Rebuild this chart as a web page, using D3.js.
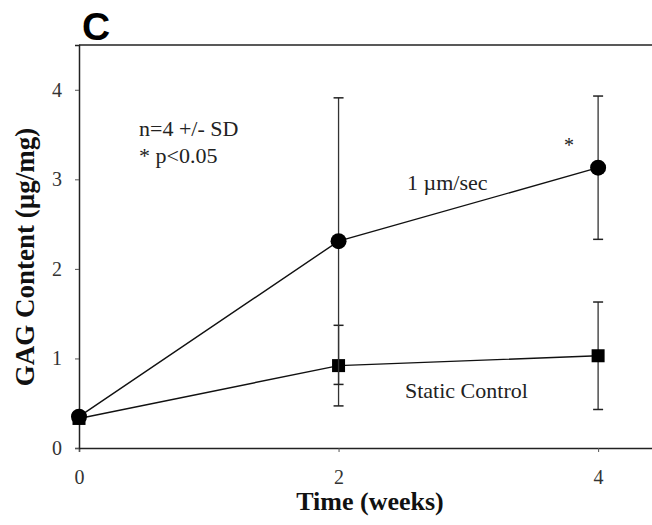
<!DOCTYPE html>
<html>
<head>
<meta charset="utf-8">
<script src="https://cdn.jsdelivr.net/npm/d3@7"></script>
<style>
  body { margin: 0; background: #fff; }
</style>
</head>
<body>
<svg width="652" height="525"></svg>
<script>
// data
var weeks = [0, 2, 4];
var flowMean = [0.35, 2.31, 3.13];
var flowSD = [0, 1.6, 0.8];
var staticMean = [0.33, 0.92, 1.03];
var staticSD = [0, 0.45, 0.6];
var xTicks = [0, 2, 4];
var yTicks = [0, 1, 2, 3, 4];

var serif = "'Liberation Serif', 'Times New Roman', Times, serif";

var svg = d3.select("svg");

var margin = {left: 79, top: 45, bottom: 77};
var width = 663 - margin.left,
    height = 525 - margin.top - margin.bottom;

var x = d3.scaleLinear().domain([0, 4.5]).range([margin.left, margin.left + width]);
var y = d3.scaleLinear().domain([0, 4.5]).range([margin.top + height, margin.top]);

// frame top
svg.append("line")
    .attr("x1", x(0)).attr("x2", x(4.5))
    .attr("y1", y(4.5)).attr("y2", y(4.5))
    .attr("stroke", "#222").attr("stroke-width", 1.5);

var xAxis = svg.append("g")
    .attr("transform", "translate(0," + y(0) + ")")
    .call(d3.axisBottom(x).tickValues(xTicks).tickFormat(d3.format("d")).tickSize(4).tickPadding(18));

var yAxis = svg.append("g")
    .attr("transform", "translate(" + x(0) + ",0)")
    .call(d3.axisLeft(y).tickValues(yTicks).tickFormat(d3.format("d")).tickSize(4).tickPadding(13));

[xAxis, yAxis].forEach(function(g) {
  g.attr("font-family", serif).attr("font-size", 20);
  g.select(".domain").attr("stroke", "#222").attr("stroke-width", 1.5);
  g.selectAll(".tick line").attr("stroke", "#555");
  g.selectAll("text").attr("fill", "#333");
});

function series(mean, sd, shape) {
  var pts = weeks.map(function(w, i) { return {w: w, m: mean[i], sd: sd[i]}; });
  var g = svg.append("g");

  g.append("path")
      .datum(pts)
      .attr("fill", "none")
      .attr("stroke", "#111")
      .attr("stroke-width", 1.4)
      .attr("d", d3.line().x(function(d) { return x(d.w); }).y(function(d) { return y(d.m); }));

  var bars = g.selectAll(".err")
      .data(pts.filter(function(d) { return d.sd > 0; }))
    .enter().append("g");
  bars.append("line")
      .attr("x1", function(d) { return x(d.w); }).attr("x2", function(d) { return x(d.w); })
      .attr("y1", function(d) { return y(d.m + d.sd); }).attr("y2", function(d) { return y(d.m - d.sd); })
      .attr("stroke", "#333").attr("stroke-width", 1.3);
  [1, -1].forEach(function(s) {
    bars.append("line")
        .attr("x1", function(d) { return x(d.w) - 5; }).attr("x2", function(d) { return x(d.w) + 5; })
        .attr("y1", function(d) { return y(d.m + s * d.sd); }).attr("y2", function(d) { return y(d.m + s * d.sd); })
        .attr("stroke", "#222").attr("stroke-width", 1.5);
  });

  if (shape == "circle") {
    g.selectAll("circle").data(pts).enter().append("circle")
        .attr("cx", function(d) { return x(d.w); })
        .attr("cy", function(d) { return y(d.m); })
        .attr("r", 8).attr("fill", "#000");
  } else {
    g.selectAll("rect").data(pts).enter().append("rect")
        .attr("x", function(d) { return x(d.w) - 6.5; })
        .attr("y", function(d) { return y(d.m) - 6.5; })
        .attr("width", 13).attr("height", 13).attr("fill", "#000");
  }
}

series(staticMean, staticSD, "square");
series(flowMean, flowSD, "circle");

// annotations
function note(px, py, size, str) {
  svg.append("text").attr("x", px).attr("y", py)
      .attr("font-family", serif).attr("font-size", size).attr("fill", "#222")
      .text(str);
}
note(139, 136, 22, "n=4 +/- SD");
note(139, 163, 22, "* p<0.05");
note(407, 190, 22, "1 \u00b5m/sec");
note(405, 398, 22, "Static Control");
note(564, 152, 20, "*");

// axis titles
svg.append("text")
    .attr("x", 370).attr("y", 510)
    .attr("text-anchor", "middle")
    .attr("font-family", serif)
    .attr("font-size", 26).attr("font-weight", "bold").attr("fill", "#111")
    .text("Time (weeks)");

svg.append("text")
    .attr("transform", "translate(34,257) rotate(-90)")
    .attr("text-anchor", "middle")
    .attr("font-family", serif)
    .attr("font-size", 27).attr("font-weight", "bold").attr("fill", "#111")
    .text("GAG Content (\u00b5g/mg)");

// panel letter
svg.append("text")
    .attr("x", 82).attr("y", 40)
    .attr("font-family", "'Liberation Sans', Arial, sans-serif")
    .attr("font-size", 39).attr("font-weight", "bold").attr("fill", "#000")
    .text("C");
</script>
</body>
</html>
